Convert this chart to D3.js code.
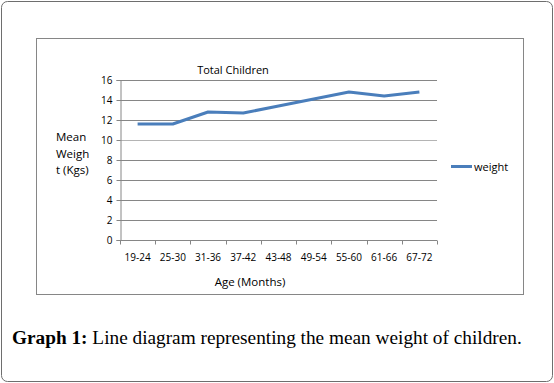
<!DOCTYPE html>
<html>
<head>
<meta charset="utf-8">
<script src="https://cdn.jsdelivr.net/npm/d3@7"></script>
<style>
    body { margin: 0; background: #fff; }
    svg text { font-family: "Open Sans", "DejaVu Sans", sans-serif; fill: #000; }
    .caption text { font-family: "Liberation Serif", serif; }
</style>
</head>
<body>
<div id="chart"></div>
<script>
// data
let ageGroups = ["19-24", "25-30", "31-36", "37-42", "43-48", "49-54", "55-60", "61-66", "67-72"];
let meanWeight = [11.6, 11.6, 12.8, 12.7, 13.4, 14.1, 14.8, 14.4, 14.8];
let yTicks = [0, 2, 4, 6, 8, 10, 12, 14, 16];

let W = 554, H = 383;
let margin = {top: 80, left: 120, right: 117, bottom: 143};
let width = W - margin.left - margin.right;
let height = H - margin.top - margin.bottom;

let svg = d3.select("#chart").append("svg")
    .attr("width", W)
    .attr("height", H);

// outer frame + chart box
svg.append("rect")
    .attr("x", 1.5).attr("y", 1.5)
    .attr("width", W - 3).attr("height", H - 3)
    .attr("rx", 6)
    .attr("fill", "none")
    .attr("stroke", "#6e6e6e");

svg.append("rect")
    .attr("x", 36.5).attr("y", 38.5)
    .attr("width", 487).attr("height", 256)
    .attr("fill", "#fff")
    .attr("stroke", "#868686");

let g = svg.append("g")
    .attr("transform", `translate(${margin.left}, ${margin.top})`);

// scales
let x = d3.scaleBand()
    .domain(ageGroups)
    .range([0, width]);

let y = d3.scaleLinear()
    .domain([0, 16])
    .range([height, 0]);

// gridlines
g.selectAll(".grid")
    .data(yTicks.filter(d => d > 0))
    .join("line")
    .attr("class", "grid")
    .attr("x1", 0).attr("x2", width)
    .attr("y1", d => Math.round(y(d)) + 0.5)
    .attr("y2", d => Math.round(y(d)) + 0.5)
    .attr("stroke", d => d === 10 ? "#b4b4b4" : "#868686");

// y axis
let yAxis = d3.axisLeft(y).tickValues(yTicks).tickSize(4).tickPadding(4);
let yAxisGroup = g.append("g")
    .attr("transform", "translate(0.5, 0)")
    .call(yAxis);
yAxisGroup.select(".domain").attr("stroke", "#868686");
yAxisGroup.selectAll(".tick line").attr("stroke", "#868686");
yAxisGroup.selectAll(".tick text").style("font-size", "10px");

// x axis: ticks between the categories
let xAxisGroup = g.append("g")
    .attr("transform", `translate(0, ${height + 0.5})`);
xAxisGroup.append("line")
    .attr("x1", 0).attr("x2", width)
    .attr("stroke", "#868686");
xAxisGroup.selectAll(".xtick")
    .data(d3.range(ageGroups.length + 1))
    .join("line")
    .attr("class", "xtick")
    .attr("x1", i => Math.round(i * x.step()) + 0.5)
    .attr("x2", i => Math.round(i * x.step()) + 0.5)
    .attr("y1", 0).attr("y2", 4)
    .attr("stroke", "#868686");
xAxisGroup.selectAll(".xlabel")
    .data(ageGroups)
    .join("text")
    .attr("class", "xlabel")
    .attr("x", d => x(d) + x.bandwidth() / 2)
    .attr("y", 20)
    .attr("text-anchor", "middle")
    .style("font-size", "10px")
    .text(d => d);

// line
let line = d3.line()
    .x((d, i) => x(ageGroups[i]) + x.bandwidth() / 2)
    .y(d => y(d));

g.append("path")
    .datum(meanWeight)
    .attr("d", line)
    .attr("fill", "none")
    .attr("stroke", "#4a7ebb")
    .attr("stroke-width", 3)
    .attr("stroke-linejoin", "round");

// titles
svg.append("text")
    .attr("x", 233).attr("y", 74)
    .attr("text-anchor", "middle")
    .style("font-size", "11px")
    .text("Total Children");

svg.append("text")
    .attr("x", 250).attr("y", 286)
    .attr("text-anchor", "middle")
    .style("font-size", "11.5px")
    .text("Age (Months)");

let yLabel = svg.append("text")
    .style("font-size", "11.5px");
["Mean", "Weigh", "t (Kgs)"].forEach((s, i) => {
    yLabel.append("tspan")
        .attr("x", 56)
        .attr("y", 141 + i * 16.5)
        .text(s);
});

// legend
svg.append("line")
    .attr("x1", 451).attr("x2", 472)
    .attr("y1", 166.5).attr("y2", 166.5)
    .attr("stroke", "#4a7ebb")
    .attr("stroke-width", 3);
svg.append("text")
    .attr("x", 474).attr("y", 171)
    .style("font-size", "11px")
    .text("weight");

// caption
let cap = svg.append("g").attr("class", "caption")
    .append("text")
    .attr("x", 12).attr("y", 344)
    .style("font-size", "19.3px");
cap.append("tspan").attr("font-weight", "bold").text("Graph 1:");
cap.append("tspan").text(" Line diagram representing the mean weight of children.");
</script>
</body>
</html>
